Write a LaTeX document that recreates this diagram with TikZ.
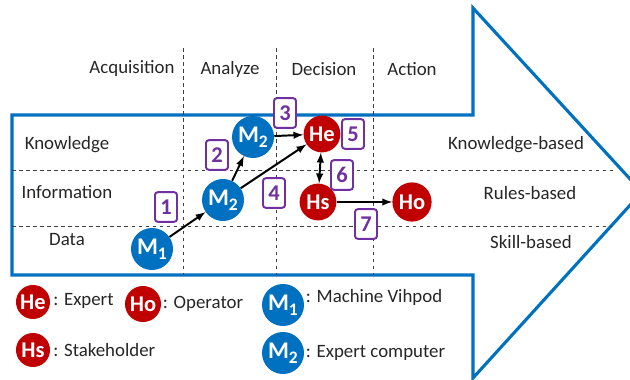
\documentclass[tikz,border=0pt]{standalone}
\usepackage{fontspec}
\setmainfont{Carlito}
\definecolor{flowBlue}{HTML}{0070C0}
\definecolor{agentRed}{HTML}{C00000}
\definecolor{stepPurple}{HTML}{7030A0}
\tikzset{
  lbl/.style={font=\fontsize{13.4}{15}\selectfont, text=black!85},
  machine/.style={circle, fill=flowBlue, text=white, inner sep=0pt, minimum size=1.05cm, font=\bfseries\fontsize{17}{17}\selectfont},
  human/.style={circle, fill=agentRed, text=white, inner sep=0pt, minimum size=0.92cm, font=\bfseries\fontsize{16}{16}\selectfont},
  stepbox/.style={draw=stepPurple, line width=1.4pt, rounded corners=2pt, fill=white, text=stepPurple, minimum width=0.55cm, minimum height=0.74cm, inner sep=0pt, font=\bfseries\fontsize{16}{16}\selectfont},
  gridline/.style={dashed, dash pattern=on 2.5pt off 2.5pt, line width=0.5pt, black!75},
  flow/.style={-latex, line width=1.4pt},
}
\newcommand{\Msub}[1]{M\raisebox{-0.45ex}{\fontsize{12.5}{12.5}\selectfont #1}}
\begin{document}
\begin{tikzpicture}[x=0.025cm, y=-0.025cm]
  \useasboundingbox (0,0) rectangle (630,380);

  % Big arrow outline
  \draw [flowBlue, line width=2.2pt] (12,115) -- (473,115) -- (473,8) -- (642,192) -- (473,378) -- (473,275) -- (12,275) -- cycle;%

  % Drawing the dashed grid
  \draw [gridline] (183,48) -- (183,275);%
  \draw [gridline] (276,48) -- (276,275);%
  \draw [gridline] (373,48) -- (373,275);%
  \draw [gridline] (12,170) -- (616,170);%
  \draw [gridline] (12,226) -- (612,226);%

  % Column and row labels
  \node [lbl] (acq) at (132,69) {Acquisition};%
  \node [lbl] (ana) at (230,69) {Analyze};%
  \node [lbl] (dec) at (324,69) {Decision};%
  \node [lbl] (act) at (412,69) {Action};%
  \node [lbl] (know) at (67,145) {Knowledge};%
  \node [lbl] (info) at (67,192) {Information};%
  \node [lbl] (data) at (67,240) {Data};%
  \node [lbl] (knowB) at (516,145) {Knowledge-based};%
  \node [lbl] (ruleB) at (530,193) {Rules-based};%
  \node [lbl] (skillB) at (531,242) {Skill-based};%

  % Marking the agents
  \node [machine] (mOne) at (152,249) {\Msub{1}};%
  \node [machine] (mLow) at (223,200) {\Msub{2}};%
  \node [machine] (mUp) at (253,137) {\Msub{2}};%
  \node [human] (he) at (322,134) {He};%
  \node [human] (hs) at (318,202) {Hs};%
  \node [human, minimum size=0.98cm] (ho) at (412,202) {Ho};%

  % Drawing the steps
  \draw [flow] (mOne) -- (mLow);%
  \draw [flow] (mLow) -- (mUp);%
  \draw [flow] (mUp) -- (he);%
  \draw [flow] (mLow) -- (he);%
  \draw [flow, latex-latex] (he) -- (hs);%
  \draw [flow] (hs) -- (ho);%

  % Step numbers
  \node [stepbox] (s1) at (166,207) {1};%
  \node [stepbox] (s2) at (217,155) {2};%
  \node [stepbox] (s3) at (285,113) {3};%
  \node [stepbox] (s4) at (274,193) {4};%
  \node [stepbox] (s5) at (353,134) {5};%
  \node [stepbox] (s6) at (342,175) {6};%
  \node [stepbox] (s7) at (366,224) {7};%

  % Legend
  \node [human, minimum size=0.85cm] (legHe) at (33,302) {He};%
  \node [lbl, anchor=west, inner sep=2pt] (legHeT) at ([yshift=1pt]legHe.east) {: Expert};%
  \node [human, minimum size=0.9cm] (legHo) at (143,304) {Ho};%
  \node [lbl, anchor=west, inner sep=1pt] (legHoT) at (legHo.east) {: Operator};%
  \node [human, minimum size=0.85cm] (legHs) at (33,350) {Hs};%
  \node [lbl, anchor=west, inner sep=2pt] (legHsT) at (legHs.east) {: Stakeholder};%
  \node [machine] (legM1) at (283,305) {\Msub{1}};%
  \node [lbl, anchor=west, inner sep=1pt] (legM1T) at ([yshift=5pt]legM1.east) {: Machine Vihpod};%
  \node [machine] (legM2) at (283,353) {\Msub{2}};%
  \node [lbl, anchor=west, inner sep=1pt] (legM2T) at (legM2.east) {: Expert computer};%
\end{tikzpicture}
\end{document}
